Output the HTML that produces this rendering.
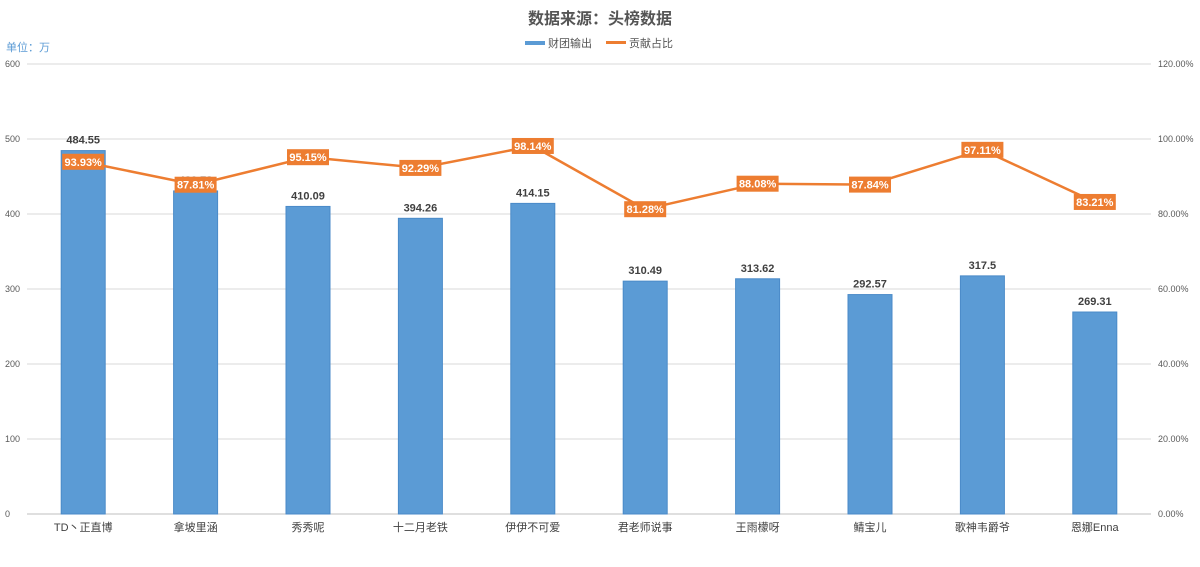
<!DOCTYPE html>
<html><head><meta charset="utf-8"><style>
body{margin:0;background:#fff;font-family:"Liberation Sans","Noto Sans CJK SC",sans-serif;}
svg{display:block}
</style></head><body>
<svg id="chart" width="1200" height="567" font-family="Liberation Sans, Noto Sans CJK SC, sans-serif">
<text x="600" y="24" text-anchor="middle" font-size="16" font-weight="bold" fill="#555">数据来源：头榜数据</text>
<g>
<rect x="525" y="41" width="20" height="4" fill="#5b9bd5"/>
<text x="548" y="47" font-size="11" fill="#555">财团输出</text>
<rect x="606" y="41" width="20" height="3" fill="#ed7d31"/>
<text x="629" y="47" font-size="11" fill="#555">贡献占比</text>
</g>
<text x="6" y="51" font-size="11" fill="#5b9bd5">单位：万</text>
<g id="grid"></g><g id="bars"></g><g id="line"></g><g id="labels"></g>
</svg>
<script>
const categories=["TD丶正直博","拿坡里涵","秀秀呢","十二月老铁","伊伊不可爱","君老师说事","王雨檬呀","鲭宝儿","歌神韦爵爷","恩娜Enna"];
const values=[484.55,430.73,410.09,394.26,414.15,310.49,313.62,292.57,317.5,269.31];
const valueLabels=["484.55","430.73","410.09","394.26","414.15","310.49","313.62","292.57","317.5","269.31"];
const shares=[93.93,87.81,95.15,92.29,98.14,81.28,88.08,87.84,97.11,83.21];
const leftTicks=[0,100,200,300,400,500,600];
const rightTicks=["0.00%","20.00%","40.00%","60.00%","80.00%","100.00%","120.00%"];
const NS="http://www.w3.org/2000/svg";
const x0=27,x1=1151,yB=514,yT=64;
const bw=(x1-x0)/categories.length;
const yL=v=>yB-(v/600)*(yB-yT);
const yR=p=>yB-(p/120)*(yB-yT);
const xc=i=>x0+bw*(i+0.5);
function mk(t,a,p){const e=document.createElementNS(NS,t);for(const k in a)e.setAttribute(k,a[k]);p.appendChild(e);return e;}
const G=document.getElementById('grid'),B=document.getElementById('bars'),L=document.getElementById('line'),T=document.getElementById('labels');
leftTicks.forEach((v,i)=>{
 const ln=mk('line',{x1:x0,x2:x1,y1:yL(v),y2:yL(v),stroke:v===0?'#bfbfbf':'#d9d9d9','stroke-width':1},G);
 
 
 const t=mk('text',{x:5,y:yL(v)+3,'font-size':9,fill:'#595959'},G);t.textContent=v;
 
 
 const r=mk('text',{x:1158,y:yL(v)+3,'font-size':9,fill:'#595959'},G);r.textContent=rightTicks[i];
 
 
});
categories.forEach((c,i)=>{
 const r=mk('rect',{x:xc(i)-22,y:yL(values[i]),width:44,height:yB-yL(values[i]),fill:'#5b9bd5',stroke:'#4a8ac8','stroke-width':1},B);
 
 
 const v=mk('text',{x:xc(i),y:yL(values[i])-7,'text-anchor':'middle','font-size':11,'font-weight':'bold',fill:'#404040'},T);v.textContent=valueLabels[i];
 
 
 const t=mk('text',{x:xc(i),y:531,'text-anchor':'middle','font-size':11,fill:'#404040'},T);t.textContent=c;
 
 
});
const pts=shares.map((s,i)=>xc(i)+','+yR(s)).join(' ');
const pl=mk('polyline',{points:pts,fill:'none',stroke:'#ed7d31','stroke-width':2.5},L);


shares.forEach((s,i)=>{
 const r=mk('rect',{x:xc(i)-21,y:yR(s)-8,width:42,height:16,fill:'#ed7d31'},T);
 
 
 const t=mk('text',{x:xc(i),y:yR(s)+4,'text-anchor':'middle','font-size':11,'font-weight':'bold',fill:'#fff'},T);t.textContent=s.toFixed(2)+'%';
 
 
});
</script>
</body></html>
